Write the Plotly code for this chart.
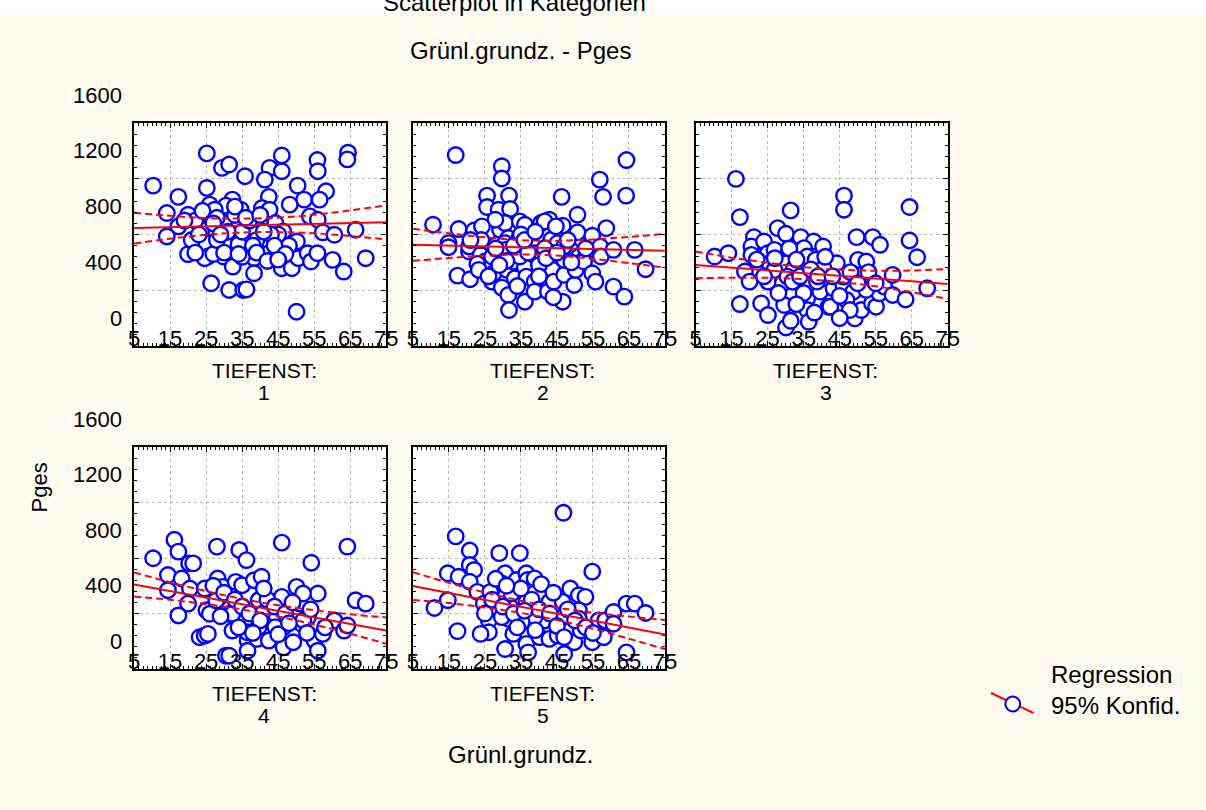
import plotly.graph_objects as go

W, H = 1206, 810
FONT = "Liberation Sans, Arial, sans-serif"

# ---------------- data ----------------
x_ticks = [5, 15, 25, 35, 45, 55, 65, 75]
x_tick_labels = ["5", "15", "25", "35", "45", "55", "65", "75"]
y_label_vals = [0, 400, 800, 1200, 1600]
y_grid_vals = [200, 600, 1000]
categories = ["1", "2", "3", "4", "5"]

p1 = [(10.3, 951), (25.2, 1182), (29.4, 1078), (31.4, 1102), (35.8, 1018), (42.6, 1078), (46.0, 1167),
      (46.0, 1054), (41.3, 994), (25.2, 934), (17.3, 870), (50.4, 951), (55.9, 1134), (56.0, 1054),
      (64.4, 1187), (64.2, 1139), (58.3, 910), (52.2, 850), (56.5, 850), (48.2, 814), (42.4, 870),
      (40.5, 790), (42.6, 778), (32.3, 850), (30.5, 807), (34.6, 778), (26.0, 814), (25.1, 754),
      (27.4, 778), (14.1, 754), (20.0, 742), (17.3, 658), (14.1, 586), (25.1, 634), (27.8, 610),
      (30.1, 682), (34.2, 682), (36.4, 586), (38.6, 682), (40.5, 658), (44.2, 682), (46.4, 622),
      (53.8, 730), (56.0, 706), (57.4, 615), (60.6, 598), (66.5, 634), (25.1, 538), (25.5, 442),
      (30.1, 550), (33.3, 586), (35.5, 490), (31.4, 514), (20.0, 459), (24.6, 430), (29.8, 442),
      (32.4, 370), (38.3, 430), (42.4, 550), (42.4, 466), (46.0, 358), (48.8, 358), (50.2, 550),
      (50.6, 430), (53.2, 466), (54.1, 406), (55.9, 466), (60.1, 418), (63.2, 334), (69.3, 430),
      (38.3, 322), (26.4, 250), (31.4, 202), (35.3, 202), (36.2, 206), (50.1, 46), (22.0, 700),
      (28.0, 720), (33.0, 740), (37.0, 640), (39.0, 560), (45.0, 600), (48.0, 520), (21.0, 560),
      (27.0, 460), (34.0, 530), (35.0, 620), (43.0, 600), (37.0, 700), (23.0, 600),
      (33.0, 800), (36.0, 720), (40.0, 740), (28.0, 560), (30.0, 470), (35.0, 440), (38.0, 520),
      (41.0, 620), (44.0, 520), (47.0, 460), (22.0, 470), (19.0, 700), (27.0, 680), (31.0, 620),
      (34.0, 460), (39.0, 470), (42.0, 410), (45.0, 420), (24.0, 770), (29.0, 600)]

p2 = [(16.9, 1170), (29.7, 1090), (29.7, 1002), (64.3, 1134), (56.9, 994), (57.8, 870), (64.2, 879),
      (46.3, 870), (25.6, 879), (31.7, 879), (25.6, 797), (28.8, 778), (32.0, 783), (10.6, 670),
      (17.7, 639), (22.0, 629), (25.9, 615), (29.2, 634), (30.6, 682), (34.7, 694), (40.6, 682),
      (42.9, 706), (46.6, 663), (50.7, 742), (50.7, 615), (54.8, 591), (58.7, 646), (14.9, 538),
      (14.9, 509), (20.6, 478), (20.6, 514), (23.8, 454), (25.0, 406), (25.6, 382), (31.5, 574),
      (30.6, 538), (30.6, 490), (34.7, 586), (37.4, 622), (35.6, 514), (38.8, 466), (38.8, 418),
      (43.4, 562), (45.2, 538), (43.8, 466), (48.8, 490), (51.1, 442), (52.5, 418), (57.0, 514),
      (57.2, 442), (60.7, 490), (66.6, 490), (69.6, 351), (17.4, 305), (20.9, 279), (22.9, 389),
      (27.0, 262), (27.4, 322), (29.7, 219), (31.1, 346), (31.5, 166), (32.9, 406), (33.3, 286),
      (36.1, 365), (36.1, 118), (36.5, 298), (38.8, 262), (38.8, 190), (42.0, 346), (42.5, 190),
      (43.8, 346), (44.1, 262), (46.6, 118), (47.0, 310), (49.8, 238), (50.2, 346), (52.5, 406),
      (54.8, 322), (55.7, 262), (60.7, 226), (63.7, 154), (31.7, 58), (47.0, 418), (27.9, 706),
      (41.6, 694), (44.7, 658), (24.2, 658), (36.1, 670), (41.6, 502), (47.0, 514), (34.7, 442),
      (27.0, 442), (23.3, 346),
      (24.0, 560), (28.0, 500), (31.0, 410), (33.0, 520), (35.0, 600), (37.0, 470), (40.0, 380),
      (42.0, 430), (45.0, 470), (48.0, 560), (26.0, 300), (29.0, 380), (34.0, 230), (40.0, 300),
      (44.0, 150), (49.0, 400), (53.0, 500), (21.0, 560), (36.0, 560), (39.0, 620)]

p3 = [(16.2, 999), (17.3, 725), (31.4, 773), (46.2, 879), (46.2, 778), (64.4, 797), (64.4, 557),
      (66.5, 437), (27.8, 646), (30.1, 605), (34.2, 581), (21.2, 581), (37.8, 550), (40.4, 514),
      (49.7, 581), (54.2, 581), (56.2, 526), (10.3, 442), (14.1, 466), (20.5, 514), (20.5, 454),
      (24.0, 550), (25.1, 466), (26.9, 490), (30.5, 454), (30.1, 394), (32.3, 358), (35.1, 502),
      (36.0, 442), (38.3, 418), (44.2, 394), (40.5, 358), (50.1, 418), (52.4, 406), (18.7, 334),
      (20.0, 262), (25.5, 394), (25.1, 262), (26.9, 346), (29.2, 250), (30.5, 298), (31.9, 262),
      (36.0, 226), (36.0, 142), (36.0, 58), (39.6, 190), (41.9, 82), (38.7, 262), (43.3, 214),
      (46.0, 238), (46.0, 298), (48.8, 190), (49.2, -2), (51.0, 58), (54.0, 106), (55.1, 82),
      (56.0, 178), (57.4, 226), (59.7, 310), (59.7, 166), (63.3, 134), (69.3, 214), (17.3, 101),
      (23.2, 106), (25.1, 22), (29.6, 94), (30.1, -67), (31.4, -19), (36.4, -26), (42.4, 82),
      (46.9, 130), (52.4, 202), (47.8, 58),
      (22.0, 420), (24.0, 300), (27.0, 430), (28.0, 180), (31.0, 500), (33.0, 420), (34.0, 300),
      (35.0, 180), (37.0, 350), (39.0, 300), (41.0, 440), (43.0, 300), (45.0, 160), (48.0, 330),
      (50.0, 250), (53.0, 330), (55.0, 250), (33.0, 100), (38.0, 40), (45.0, 0)]

p4 = [(10.3, 598), (16.2, 731), (17.3, 646), (20.3, 561), (21.4, 561), (14.4, 477), (14.4, 368),
      (18.2, 452), (20.5, 380), (20.0, 271), (17.3, 186), (28.0, 682), (34.2, 658), (36.2, 585),
      (46.0, 711), (64.2, 682), (54.2, 566), (56.0, 344), (66.5, 295), (69.3, 271), (24.6, 380),
      (28.2, 452), (29.6, 392), (33.2, 428), (35.0, 404), (38.3, 440), (40.4, 465), (39.6, 295),
      (42.4, 223), (44.2, 198), (46.0, 320), (50.1, 392), (50.6, 198), (51.0, 271), (51.9, 344),
      (25.1, 223), (26.0, 198), (31.0, 271), (31.5, 235), (31.5, 198), (32.3, 77), (36.0, 162),
      (36.5, 5), (36.5, -68), (39.2, 17), (42.4, 5), (46.5, -44), (46.5, 102), (49.2, -7),
      (51.5, 126), (53.3, 174), (55.1, 5), (56.0, -68), (57.4, 53), (60.6, 150), (63.3, 77),
      (64.2, 114), (23.2, 29), (24.6, 41), (25.5, 53), (30.5, -104), (31.4, -104), (44.2, 102),
      (39.6, 102), (36.4, 65), (40.5, 198), (27.8, 295), (32.3, 198),
      (27.0, 400), (30.0, 350), (33.0, 300), (35.0, 250), (37.0, 200), (40.0, 150), (42.0, 300),
      (44.0, 250), (47.0, 200), (49.0, 280), (52.0, 150), (54.0, 230), (58.0, 100), (34.0, 100),
      (38.0, 60), (29.0, 180), (45.0, 50), (48.0, 130), (53.0, 60), (41.0, 380)]

p5 = [(46.8, 926), (16.9, 756), (20.8, 654), (20.8, 550), (22.0, 514), (29.0, 635), (34.7, 635),
      (54.8, 502), (14.7, 490), (17.7, 465), (20.8, 429), (22.9, 356), (30.6, 490), (29.7, 417),
      (33.8, 441), (36.5, 490), (36.8, 441), (38.8, 453), (40.6, 412), (14.7, 296), (11.0, 240),
      (24.7, 271), (26.5, 356), (27.4, 247), (30.6, 320), (32.0, 247), (36.5, 284), (42.9, 284),
      (46.6, 284), (48.7, 380), (51.1, 332), (52.9, 320), (46.6, 174), (51.1, 223), (51.1, 162),
      (41.6, 150), (38.8, 174), (35.2, 138), (31.5, 162), (26.1, 150), (26.1, 65), (23.8, 53),
      (17.4, 73), (32.9, 53), (36.5, -19), (30.6, -56), (40.2, 29), (42.9, 17), (45.2, 41),
      (49.8, -7), (51.6, 78), (54.8, -7), (56.6, 150), (58.4, 150), (58.0, 29), (60.7, 211),
      (60.7, 126), (64.3, 271), (66.6, 271), (69.6, 204), (47.0, -92), (37.0, -80), (64.3, -80),
      (29.7, 174), (32.4, 344),
      (27.0, 300), (30.0, 250), (33.0, 200), (35.0, 380), (38.0, 300), (40.0, 230), (43.0, 200),
      (45.0, 110), (48.0, 230), (50.0, 150), (53.0, 100), (34.0, 100), (39.0, 80), (44.0, 350),
      (28.0, 450), (47.0, 30), (55.0, 60), (25.0, 200), (31.0, 400), (36.0, 220)]

# regression line and 95% band, read at x = 5, 15, ..., 75
reg_x = [5, 15, 25, 35, 45, 55, 65, 75]
fit1 = [646, 652, 658, 664, 669, 675, 681, 687]
up1 = [756, 734, 718, 714, 721, 741, 773, 809]
lo1 = [536, 570, 598, 614, 617, 609, 589, 565]
fit2 = [526, 520, 514, 508, 502, 495, 489, 483]
up2 = [641, 609, 580, 560, 555, 565, 583, 604]
lo2 = [411, 431, 448, 456, 449, 425, 395, 362]
fit3 = [382, 362, 343, 323, 304, 284, 264, 245]
up3 = [478, 434, 397, 366, 348, 340, 342, 353]
lo3 = [286, 290, 289, 280, 260, 228, 186, 137]
fit4 = [409, 362, 314, 267, 219, 172, 124, 77]
up4 = [496, 425, 361, 305, 259, 224, 194, 172]
lo4 = [322, 299, 267, 229, 179, 120, 54, -18]
fit5 = [398, 348, 298, 248, 198, 148, 98, 48]
up5 = [498, 421, 352, 292, 243, 206, 178, 153]
lo5 = [298, 275, 244, 204, 153, 90, 18, -57]

panels = [(p1, fit1, up1, lo1), (p2, fit2, up2, lo2), (p3, fit3, up3, lo3),
          (p4, fit4, up4, lo4), (p5, fit5, up5, lo5)]

# ---------------- layout geometry (pixels) ----------------
col_px = [(130, 386), (413, 669), (700, 956)]
row_px = [(123, 346), (447, 669)]
grid_pos = [(0, 0), (0, 1), (0, 2), (1, 0), (1, 1)]
Y_RANGE = [-200, 1400]

BLUE = "#0000FF"
RED = "#FF0000"
BG = "#FFFAF0"
TICK_SIZE = 22

fig = go.Figure()

for i, (pts, fit, up, lo) in enumerate(panels):
    n = "" if i == 0 else str(i + 1)
    xa, ya = "x" + n, "y" + n
    fig.add_trace(go.Scatter(
        x=[p[0] for p in pts], y=[p[1] for p in pts], mode="markers",
        marker=dict(symbol="circle", size=15.5, color="white",
                    line=dict(color=BLUE, width=2.4)),
        xaxis=xa, yaxis=ya, showlegend=False, hoverinfo="skip"))
    fig.add_trace(go.Scatter(x=reg_x, y=fit, mode="lines",
                             line=dict(color=RED, width=2),
                             xaxis=xa, yaxis=ya, showlegend=False, hoverinfo="skip"))
    for band in (up, lo):
        fig.add_trace(go.Scatter(x=reg_x, y=band, mode="lines",
                                 line=dict(color=RED, width=2, dash="7px,4px", shape="spline"),
                                 xaxis=xa, yaxis=ya, showlegend=False, hoverinfo="skip"))

layout_axes = {}
annotations = []
for i, (r, c) in enumerate(grid_pos):
    n = "" if i == 0 else str(i + 1)
    xd = [col_px[c][0] / W, col_px[c][1] / W]
    yd = [1 - row_px[r][1] / H, 1 - row_px[r][0] / H]
    common = dict(showgrid=True, gridcolor="#b4b4b4", griddash="dot", gridwidth=1,
                  showline=True, linecolor="black", linewidth=2, mirror="allticks",
                  ticks="inside", ticklen=5, tickwidth=1, tickcolor="black",
                  zeroline=False, fixedrange=True)
    layout_axes["xaxis" + n] = dict(
        domain=xd, anchor="y" + n, range=[5, 75], tickmode="array",
        tickvals=x_ticks, ticktext=x_tick_labels,
        tickfont=dict(family=FONT, size=TICK_SIZE, color="black"),
        ticklabelstandoff=-28,
        minor=dict(tickmode="linear", tick0=5, dtick=1.25, ticks="inside",
                   ticklen=3, tickcolor="black", showgrid=False),
        **common)
    layout_axes["yaxis" + n] = dict(
        domain=yd, anchor="x" + n, range=Y_RANGE, tickmode="array",
        tickvals=y_grid_vals, showticklabels=False,
        minor=dict(tickmode="linear", tick0=-200, dtick=80, ticks="inside",
                   ticklen=3, tickcolor="black", showgrid=False),
        **common)
    # category label under each panel
    cx = (col_px[c][0] + col_px[c][1]) / 2 + 4
    ty = row_px[r][1] + 24
    annotations.append(dict(text="TIEFENST:", xref="paper", yref="paper",
                            x=cx / W, y=1 - ty / H, xanchor="center", yanchor="middle",
                            showarrow=False, font=dict(family=FONT, size=21, color="black")))
    annotations.append(dict(text=categories[i], xref="paper", yref="paper",
                            x=cx / W, y=1 - (ty + 22) / H, xanchor="center", yanchor="middle",
                            showarrow=False, font=dict(family=FONT, size=21, color="black")))
    # y tick labels on left column (the top label lies above the plotted range)
    if c == 0:
        y0, y1 = yd
        for v in y_label_vals:
            py = y0 + (v - Y_RANGE[0]) / (Y_RANGE[1] - Y_RANGE[0]) * (y1 - y0)
            annotations.append(dict(text=str(v), xref="paper", yref="paper",
                                    x=120 / W, y=py, xanchor="right", yanchor="middle",
                                    showarrow=False,
                                    font=dict(family=FONT, size=TICK_SIZE, color="black")))

# titles
annotations += [
    dict(text="Scatterplot in Kategorien", xref="paper", yref="paper", x=516 / W, y=1 - 18 / H,
         xanchor="center", yanchor="bottom", showarrow=False,
         font=dict(family=FONT, size=24, color="black")),
    dict(text="Grünl.grundz. - Pges", xref="paper", yref="paper", x=522 / W, y=1 - 50 / H,
         xanchor="center", yanchor="middle", showarrow=False,
         font=dict(family=FONT, size=24, color="black")),
    dict(text="Grünl.grundz.", xref="paper", yref="paper", x=522 / W, y=1 - 754 / H,
         xanchor="center", yanchor="middle", showarrow=False,
         font=dict(family=FONT, size=24, color="black")),
    dict(text="Pges", xref="paper", yref="paper", x=35 / W, y=1 - 487 / H,
         xanchor="center", yanchor="middle", showarrow=False, textangle=-90,
         font=dict(family=FONT, size=22, color="black")),
    dict(text="Regression", xref="paper", yref="paper", x=1059 / W, y=1 - 674 / H,
         xanchor="left", yanchor="middle", showarrow=False,
         font=dict(family=FONT, size=24, color="black")),
    dict(text="95% Konfid.", xref="paper", yref="paper", x=1059 / W, y=1 - 705 / H,
         xanchor="left", yanchor="middle", showarrow=False,
         font=dict(family=FONT, size=24, color="black")),
]

shapes = [
    dict(type="rect", xref="paper", yref="paper", x0=-0.1, x1=1.1, y0=1 - 13 / H, y1=1.05,
         fillcolor="white", line=dict(width=0), layer="below"),
    dict(type="line", xref="paper", yref="paper", x0=1000 / W, y0=1 - 693 / H,
         x1=1043 / W, y1=1 - 713 / H, line=dict(color=RED, width=2)),
    dict(type="circle", xref="paper", yref="paper", x0=1014.5 / W, x1=1029.5 / W,
         y0=1 - 711.5 / H, y1=1 - 696.5 / H, fillcolor="white",
         line=dict(color=BLUE, width=2)),
]

fig.update_layout(
    width=W, height=H, autosize=False,
    margin=dict(l=0, r=0, t=0, b=0),
    paper_bgcolor=BG, plot_bgcolor="white",
    showlegend=False, annotations=annotations, shapes=shapes,
    font=dict(family=FONT, color="black"),
    **layout_axes)

fig.write_html("out.html", config={"displayModeBar": False})
